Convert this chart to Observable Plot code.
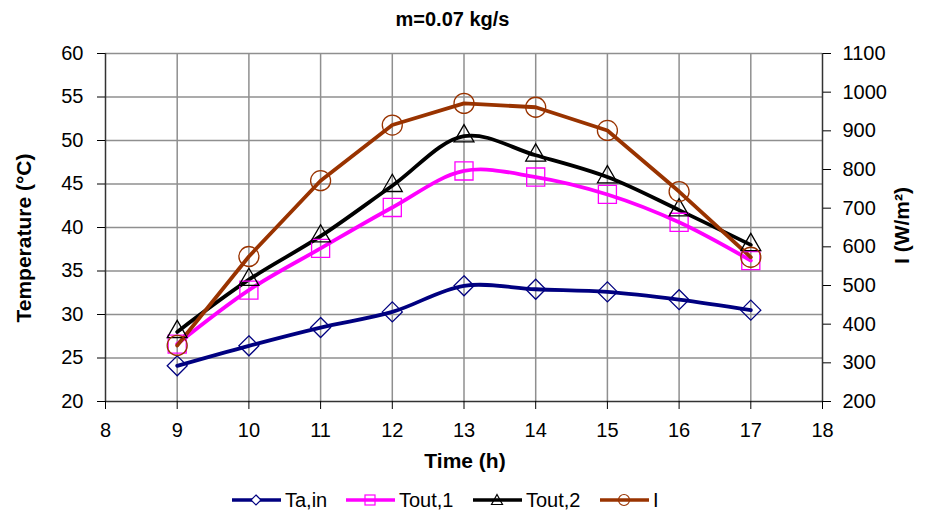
<!DOCTYPE html>
<html><head><meta charset="utf-8">
<script src="https://cdn.jsdelivr.net/npm/d3@7"></script>
<script src="https://cdn.jsdelivr.net/npm/@observablehq/plot@0.6"></script>
<style>
body{margin:0;background:#fff;font-family:"Liberation Sans",Arial,sans-serif;color:#000;}
#wrap{position:relative;width:928px;height:515px;overflow:hidden;}
#title{position:absolute;left:0;top:9px;width:905px;text-align:center;font-weight:bold;font-size:20px;line-height:20px;}
#chart{position:absolute;left:0;top:36px;}
#legend{position:absolute;left:0;top:486px;width:928px;height:28px;}
.item{position:absolute;top:0;height:28px;display:flex;align-items:center;font-size:20px;}
.item svg{margin-right:4px;}
</style></head><body>
<div id="wrap">
<div id="title">m=0.07 kg/s</div>
<div id="chart"></div>
<div id="legend"></div>
</div>
<script>
const hours = [9, 10, 11, 12, 13, 14, 15, 16, 17];
const taIn  = [24.1, 26.4, 28.5, 30.3, 33.3, 32.9, 32.6, 31.7, 30.5];
const tout1 = [26.6, 32.8, 37.6, 42.3, 46.5, 45.8, 43.8, 40.6, 36.2];
const tout2 = [28.0, 34.0, 39.0, 44.8, 50.5, 48.3, 45.8, 42.0, 38.0];
const irr   = [345, 575, 771, 915, 971, 961, 901, 743, 573];
const hourTicks = [8, 9, 10, 11, 12, 13, 14, 15, 16, 17, 18];
const tempTicks = [20, 25, 30, 35, 40, 45, 50, 55, 60];
const irrTicks  = [200, 300, 400, 500, 600, 700, 800, 900, 1000, 1100];
const seriesNames = ["Ta,in", "Tout,1", "Tout,2", "I"];
const colors = ["#000080", "#FF00FF", "#000000", "#993300"];

const toT = i => 20 + (i - 200) / 900 * 40;
const fromT = t => 200 + (t - 20) / 40 * 900;

const rows = hours.map((h, k) => ({h, ta: taIn[k], t1: tout1[k], t2: tout2[k], I: irr[k]}));

const gridStyle = {stroke: "#8f8f8f", strokeOpacity: 1, strokeWidth: 1.5};
const lineW = 3.8;

const chart = Plot.plot({
  width: 928, height: 445,
  marginLeft: 105, marginRight: 106, marginTop: 17, marginBottom: 80,
  x: {domain: [8, 18]},
  y: {domain: [20, 60]},
  style: {fontFamily: "'Liberation Sans', Arial, sans-serif", fontSize: "20px", color: "#000", background: "#fff"},
  marks: [
    Plot.gridX(hourTicks.slice(1, -1), gridStyle),
    Plot.gridY(tempTicks.slice(1), gridStyle),
    Plot.ruleX([8, 18], {stroke: "#333", strokeWidth: 1.5}),
    Plot.ruleY([20], {stroke: "#333", strokeWidth: 1.5}),
    Plot.axisX(hourTicks, {tickSize: 8, tickPadding: 13, label: null, fontSize: 20}),
    Plot.axisY(tempTicks, {anchor: "left", tickSize: 8, tickPadding: 14, label: null, fontSize: 20}),
    Plot.axisY(irrTicks.map(toT), {anchor: "right", tickSize: 8, tickPadding: 12, label: null, fontSize: 20,
      tickFormat: t => String(Math.round(fromT(t)))}),
    Plot.text(["Time (h)"], {frameAnchor: "bottom", lineAnchor: "middle", textAnchor: "middle", dy: 60, dx: 1, fontWeight: "bold", fontSize: 21}),
    Plot.text(["Temperature (°C)"], {frameAnchor: "left", lineAnchor: "middle", textAnchor: "middle", rotate: -90, dx: -81.5, dy: 10.5, fontWeight: "bold", fontSize: 21}),
    Plot.text(["I (W/m²)"], {frameAnchor: "right", lineAnchor: "middle", textAnchor: "middle", rotate: -90, dx: 79.5, dy: -2, fontWeight: "bold", fontSize: 21}),
    Plot.line(rows, {x: "h", y: "ta", stroke: colors[0], strokeWidth: lineW, curve: "catmull-rom"}),
    Plot.line(rows, {x: "h", y: "t1", stroke: colors[1], strokeWidth: lineW, curve: "catmull-rom"}),
    Plot.line(rows, {x: "h", y: "t2", stroke: colors[2], strokeWidth: lineW, curve: "catmull-rom"}),
    Plot.line(rows, {x: "h", y: d => toT(d.I), stroke: colors[3], strokeWidth: lineW, curve: "linear"}),
    Plot.dot(rows, {x: "h", y: "ta", symbol: "diamond2", r: 9, stroke: colors[0], fill: "none", strokeWidth: 1.3}),
    Plot.dot(rows, {x: "h", y: "t1", symbol: "square2", r: 11.5, stroke: colors[1], fill: "none", strokeWidth: 1.3}),
    Plot.dot(rows, {x: "h", y: "t2", symbol: "triangle2", r: 9.5, stroke: colors[2], fill: "none", strokeWidth: 1.3}),
    Plot.dot(rows, {x: "h", y: d => toT(d.I), symbol: "circle", r: 10, stroke: colors[3], fill: "none", strokeWidth: 1.3})
  ]
});
document.getElementById("chart").appendChild(chart);

// legend
const legendLeft = [232, 346, 473, 600];
const symbolSvg = [
  c => `<path d="M24,2 L29,7 L24,12 L19,7 Z" fill="#fff" stroke="${c}" stroke-width="1.2"/>`,
  c => `<rect x="19" y="2" width="10" height="10" fill="none" stroke="${c}" stroke-width="1.2"/>`,
  c => `<path d="M24,1.5 L29.5,11.5 L18.5,11.5 Z" fill="none" stroke="${c}" stroke-width="1.2"/>`,
  c => `<circle cx="24" cy="7" r="5.5" fill="none" stroke="${c}" stroke-width="1.2"/>`
];
const leg = document.getElementById("legend");
seriesNames.forEach((name, k) => {
  const div = document.createElement("div");
  div.className = "item";
  div.style.left = legendLeft[k] + "px";
  div.innerHTML = `<svg width="49" height="14" viewBox="0 0 49 14"><line x1="0" y1="7" x2="49" y2="7" stroke="${colors[k]}" stroke-width="3.6" stroke-linecap="round"/>${symbolSvg[k](colors[k])}</svg><span>${name}</span>`;
  leg.appendChild(div);
});
</script>
</body></html>
